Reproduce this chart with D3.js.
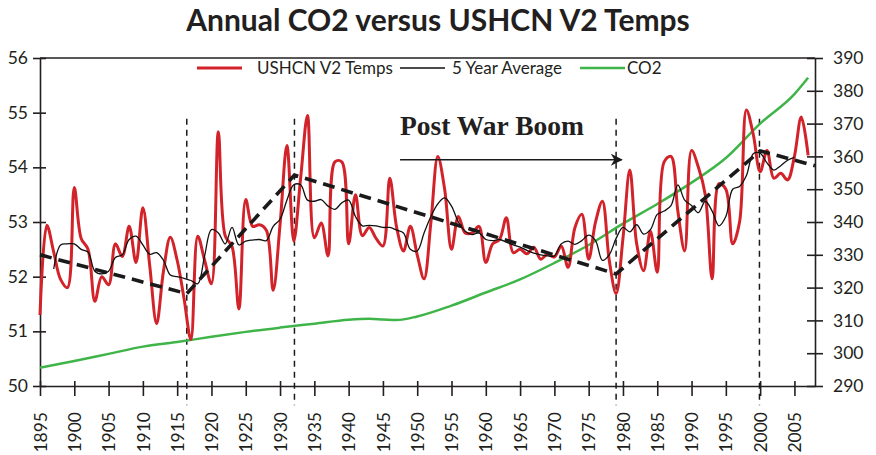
<!DOCTYPE html>
<html lang="en">
<head>
<meta charset="UTF-8">
<title>Annual CO2 versus USHCN V2 Temps</title>
<script src="https://d3js.org/d3.v7.min.js"></script>
<style>
    body { margin: 0; background: #fff; }
    svg text { font-family: Lato, "Open Sans", sans-serif; fill: #231f20; }
    .axis path, .axis line { stroke: #231f20; stroke-width: 1.6; }
    .axis text { font-size: 17.5px; }
    .temps { fill: none; stroke: #d2232a; stroke-width: 3; }
    .avg { fill: none; stroke: #111; stroke-width: 1.3; }
    .co2 { fill: none; stroke: #3fb549; stroke-width: 2.5; }
    .trend { fill: none; stroke: #1a1a1a; stroke-width: 3.6; stroke-dasharray: 12,7; }
    .marker { stroke: #1a1a1a; stroke-width: 1.5; stroke-dasharray: 6,5; }
    .legend text { font-size: 17px; }
    .title { font-size: 30px; font-weight: bold; }
    svg text.boom { font-family: "Liberation Serif", "DejaVu Serif", serif; font-size: 27.5px; font-weight: bold; }
</style>
</head>
<body>
<svg id="chart"></svg>
<script>
// annual USHCN V2 temps (F), first year 1895
var firstYear = 1895;
var temps = [
    51.3, 52.94, 52.45, 51.95, 51.8, 53.63, 52.7, 52.5, 51.55, 52.0,      // 1895-1904
    51.85, 52.6, 52.37, 52.92, 52.26, 53.26, 52.2, 51.14, 52.1, 52.72,    // 1905-1914
    52.3, 51.6, 50.85, 52.74, 52.3, 51.87, 54.65, 52.75, 52.55, 51.41,    // 1915-1924
    53.41, 52.92, 52.95, 52.85, 51.75, 52.95, 54.4, 52.65, 53.8, 54.95,   // 1925-1934
    52.71, 52.98, 52.38, 54.1, 54.1, 52.6, 53.5, 52.75, 52.9, 52.7,       // 1935-1944
    52.56, 53.8, 52.9, 52.47, 52.92, 52.4, 51.96, 53.0, 54.2, 53.6,       // 1945-1954
    52.5, 53.1, 52.8, 52.8, 52.92, 52.26, 52.6, 52.68, 53.08, 52.44,      // 1955-1964
    52.5, 52.42, 52.54, 52.32, 52.41, 52.36, 52.56, 52.17, 52.9, 53.14,   // 1965-1974
    52.32, 53.0, 53.38, 52.3, 51.69, 52.7, 53.95, 52.6, 52.11, 52.83,     // 1975-1984
    52.08, 54.1, 54.2, 53.2, 52.47, 54.31, 54.0, 53.5, 51.96, 53.7,       // 1985-1994
    53.6, 52.6, 53.0, 55.05, 54.6, 53.92, 54.31, 53.8, 53.89, 53.77,      // 1995-2004
    54.2, 54.92, 54.22                                                    // 2005-2007
];

// 5 year average, first year 1897
var avgFirstYear = 1897;
var avg5 = [
    52.14, 52.58, 52.6, 52.6, 52.5, 52.45, 52.1, 52.05,                   // 1897-1904
    52.1, 52.35, 52.4, 52.68, 52.74, 52.58, 52.41, 52.44, 52.3, 52.03,    // 1905-1914
    52.0, 51.97, 51.93, 51.87, 52.38, 52.86, 52.8, 52.6, 52.9, 52.58,     // 1915-1924
    52.65, 52.67, 52.68, 52.66, 52.92, 53.05, 53.4, 53.68, 53.68, 53.4,   // 1925-1934
    53.38, 53.41, 53.29, 53.23, 53.35, 53.4, 53.1, 52.93, 52.94, 52.93,   // 1935-1944
    52.9, 52.9, 52.85, 52.8, 52.5, 52.47, 52.8, 53.1, 53.33, 53.44,       // 1945-1954
    53.29, 53.0, 52.83, 52.77, 52.8, 52.68, 52.66, 52.68, 52.63, 52.58,   // 1955-1964
    52.54, 52.48, 52.43, 52.4, 52.38, 52.38, 52.6, 52.65, 52.59, 52.66,   // 1965-1974
    52.76, 52.66, 52.3, 52.4, 52.7, 52.9, 52.82, 52.95, 52.78, 52.86,     // 1975-1984
    53.14, 53.2, 53.3, 53.68, 53.4, 53.3, 53.17, 53.38, 53.2, 52.93,      // 1985-1994
    53.1, 53.6, 53.65, 53.85, 54.25, 54.26, 54.08, 53.95, 54.03, 54.13,   // 1995-2004
    54.18                                                                 // 2005
];

// CO2 (ppm)
var co2Years = [1895, 1900, 1905, 1910, 1915, 1920, 1925, 1930, 1935, 1940, 1943, 1945, 1947, 1950,
                1955, 1960, 1965, 1970, 1975, 1980, 1985, 1990, 1995, 2000, 2005, 2007];
var co2 = [295.6, 297.6, 299.8, 302.0, 303.4, 305.0, 306.5, 307.8, 309.0, 310.2, 310.5, 310.3, 310.1, 311.2,
           314.5, 318.5, 322.5, 327.5, 333.0, 339.5, 345.5, 352.0, 359.5, 370.0, 379.0, 384.0];

// dashed trend segments (year, temp)
var trendYears = [1895, 1916.4, 1932.1, 1979, 2000, 2008];
var trendTemps = [52.4, 51.69, 53.86, 52.05, 54.3, 54.03];

// vertical markers
var markerYears = [1916.4, 1932.1, 1979, 1999.9];

var xTicks = [1895, 1900, 1905, 1910, 1915, 1920, 1925, 1930, 1935, 1940, 1945, 1950,
              1955, 1960, 1965, 1970, 1975, 1980, 1985, 1990, 1995, 2000, 2005];
var leftTicks = [50, 51, 52, 53, 54, 55, 56];
var rightTicks = [290, 300, 310, 320, 330, 340, 350, 360, 370, 380, 390];

var legendNames = ["USHCN V2 Temps", "5 Year Average", "CO2"];

var svgWidth = 876, svgHeight = 455;
var plotLeft = 40, plotRight = 815, plotTop = 58, plotBottom = 386;

var svg = d3.select("#chart").attr("width", svgWidth).attr("height", svgHeight);

var xs = d3.scaleLinear().domain([1895, 2008]).range([plotLeft, plotRight]);
var ys = d3.scaleLinear().domain([50, 56]).range([plotBottom, plotTop]);
var ys2 = d3.scaleLinear().domain([290, 390]).range([plotBottom, plotTop]);

// title
svg.append("text")
    .attr("class", "title")
    .attr("x", 438)
    .attr("y", 31)
    .attr("text-anchor", "middle")
    .text("Annual CO2 versus USHCN V2 Temps");

// top border
svg.append("line")
    .attr("x1", plotLeft).attr("x2", plotRight)
    .attr("y1", plotTop).attr("y2", plotTop)
    .attr("stroke", "#231f20").attr("stroke-width", 1.6);

// axes
var gl = svg.append("g")
    .attr("class", "axis")
    .attr("transform", "translate(" + plotLeft + ",0)")
    .call(d3.axisLeft(ys).tickValues(leftTicks).tickFormat(d3.format("d"))
        .tickSize(7).tickSizeOuter(0).tickPadding(5));
gl.selectAll(".tick line").attr("x1", 6);

var gr = svg.append("g")
    .attr("class", "axis")
    .attr("transform", "translate(" + plotRight + ",0)")
    .call(d3.axisRight(ys2).tickValues(rightTicks).tickFormat(d3.format("d"))
        .tickSize(8).tickSizeOuter(0).tickPadding(10));
gr.selectAll(".tick line").attr("x1", -8);

var gb = svg.append("g")
    .attr("class", "axis")
    .attr("transform", "translate(0," + plotBottom + ")")
    .call(d3.axisBottom(xs).tickValues(xTicks).tickSize(10).tickSizeOuter(0).tickFormat(d3.format("d")));
gb.selectAll(".tick line").attr("y1", -5);
gb.selectAll(".tick text")
    .attr("transform", "rotate(-90)")
    .attr("text-anchor", "end")
    .attr("x", -26)
    .attr("y", 0)
    .attr("dy", "0.35em");

// vertical dashed markers
svg.append("g").selectAll("line")
    .data(markerYears)
    .enter()
    .append("line")
        .attr("class", "marker")
        .attr("x1", function(d) { return xs(d); })
        .attr("x2", function(d) { return xs(d); })
        .attr("y1", ys(54.89))
        .attr("y2", ys(49.65));

// CO2
var co2Line = d3.line()
    .x(function(d, i) { return xs(co2Years[i]); })
    .y(function(d) { return ys2(d); })
    .curve(d3.curveMonotoneX);
svg.append("path").datum(co2).attr("class", "co2").attr("d", co2Line);

// temps
var tempLine = d3.line()
    .x(function(d, i) { return xs(firstYear + i); })
    .y(function(d) { return ys(d); })
    .curve(d3.curveCatmullRom.alpha(0.5));
svg.append("path").datum(temps).attr("class", "temps").attr("d", tempLine);

// 5 year average
var avgLine = d3.line()
    .x(function(d, i) { return xs(avgFirstYear + i); })
    .y(function(d) { return ys(d); })
    .curve(d3.curveCatmullRom.alpha(0.5));
svg.append("path").datum(avg5).attr("class", "avg").attr("d", avgLine);

// trend lines
var trendLine = d3.line()
    .x(function(d, i) { return xs(trendYears[i]); })
    .y(function(d) { return ys(d); });
svg.append("path").datum(trendTemps).attr("class", "trend").attr("d", trendLine);

// Post War Boom annotation
svg.append("defs").append("marker")
    .attr("id", "arrow")
    .attr("viewBox", "0 0 10 10")
    .attr("refX", 9).attr("refY", 5)
    .attr("markerWidth", 14).attr("markerHeight", 12)
    .attr("markerUnits", "userSpaceOnUse")
    .attr("orient", "auto")
    .append("path")
        .attr("d", "M0,0 L10,5 L0,10 L3,5 Z")
        .attr("fill", "#1a1a1a");

svg.append("line")
    .attr("x1", xs(1947.5)).attr("x2", xs(1979.8))
    .attr("y1", ys(54.14)).attr("y2", ys(54.14))
    .attr("stroke", "#1a1a1a").attr("stroke-width", 1.6)
    .attr("marker-end", "url(#arrow)");

svg.append("text")
    .attr("class", "boom")
    .attr("x", xs(1947.5))
    .attr("y", ys(54.59))
    .text("Post War Boom");

// legend
var legendX = [197, 400, 580];
var legendTextX = [257, 452, 627];
var legendClass = ["temps", "avg", "co2"];
var lg = svg.append("g").attr("class", "legend");
legendNames.forEach(function(name, i) {
    lg.append("line")
        .attr("class", legendClass[i])
        .attr("x1", legendX[i]).attr("x2", legendX[i] + 45)
        .attr("y1", 68).attr("y2", 68);
    lg.append("text")
        .attr("x", legendTextX[i])
        .attr("y", 74)
        .text(name);
});
</script>
</body>
</html>
